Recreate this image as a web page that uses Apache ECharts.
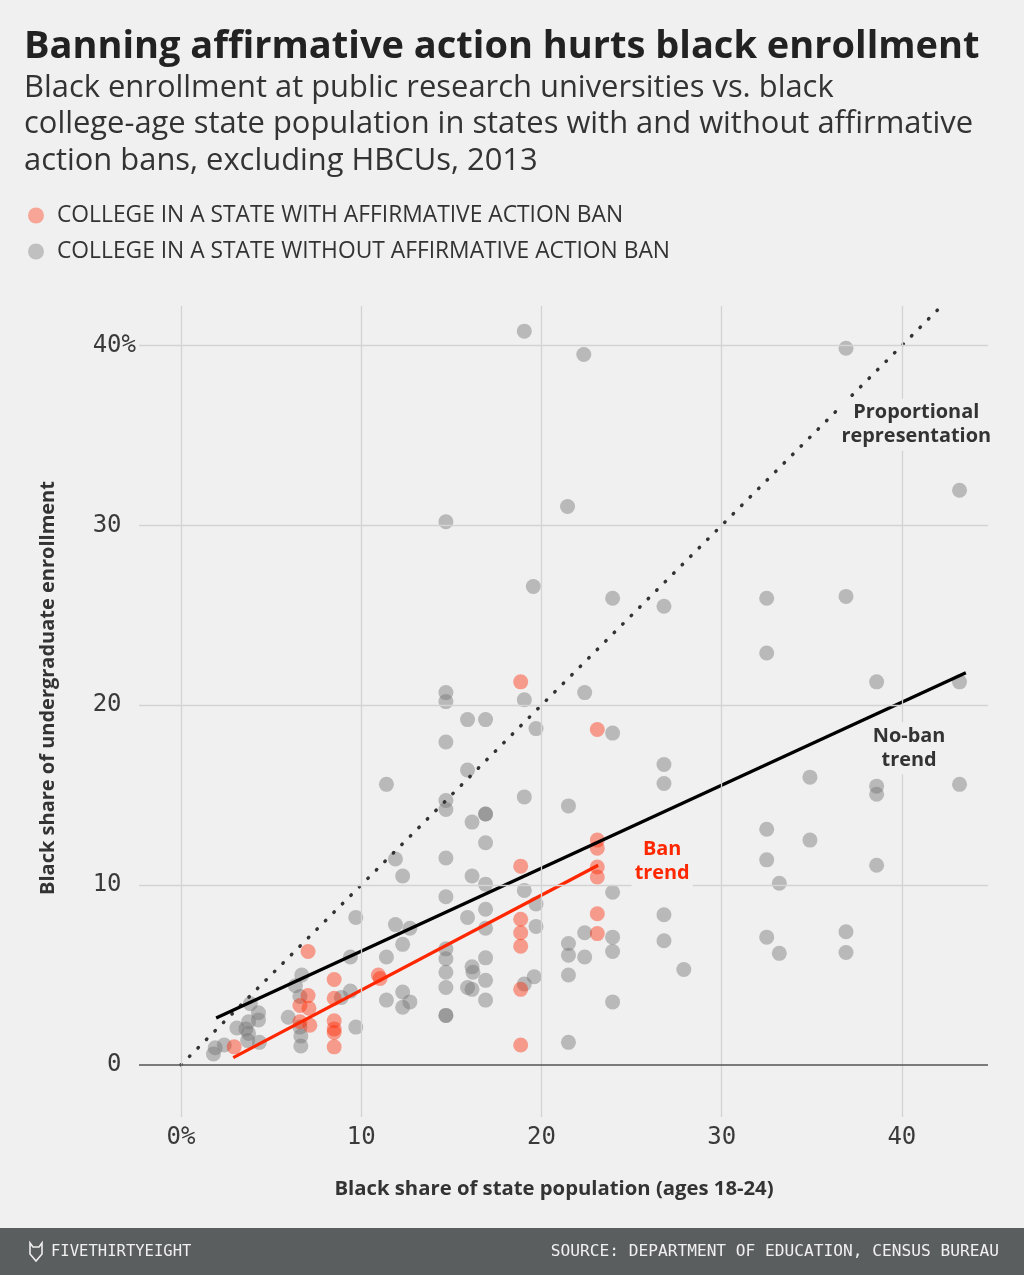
<!DOCTYPE html>
<html><head><meta charset="utf-8">
<script src="https://cdn.jsdelivr.net/npm/echarts@6/dist/echarts.min.js"></script>
<style>html,body{margin:0;padding:0;background:#f0f0f0;}#c{width:1024px;height:1275px;}</style>
</head><body><div id="c"></div><script>
// ---- data ----
const xTicks = [0, 10, 20, 30, 40];
const yTicks = [0, 10, 20, 30, 40];
const banLabel = 'COLLEGE IN A STATE WITH AFFIRMATIVE ACTION BAN';
const noBanLabel = 'COLLEGE IN A STATE WITHOUT AFFIRMATIVE ACTION BAN';
// [black share of state population ages 18-24, black share of undergraduate enrollment]
const banPoints = [
  [2.95,1.0],[6.6,3.3],[6.6,2.4],[7.05,6.3],[7.05,3.85],[7.1,3.15],[7.15,2.2],
  [8.5,4.75],[8.5,3.7],[8.5,2.45],[8.5,2.0],[8.5,1.8],[8.5,1.0],[10.95,5.0],[11.05,4.8],
  [18.85,21.3],[18.85,11.05],[18.85,8.1],[18.85,7.35],[18.85,6.6],[18.85,4.2],[18.85,1.1],
  [23.1,18.65],[23.1,12.5],[23.1,12.05],[23.1,11.0],[23.1,10.45],[23.1,8.4],[23.1,7.3]
];
const noBanPoints = [
  [1.8,0.6],[1.9,0.95],[2.4,1.1],[3.1,2.05],[3.6,2.0],[3.75,1.75],[3.7,1.35],[3.75,2.4],[3.85,3.4],[4.3,2.9],[4.3,2.5],[4.35,1.25],
  [5.95,2.65],[6.7,5.0],[6.35,4.4],[6.6,3.8],[6.6,2.1],[6.65,1.6],[6.65,1.05],
  [8.9,3.75],[9.4,4.1],[9.4,6.0],[9.7,8.2],[9.7,2.1],
  [11.4,15.6],[11.4,6.0],[11.4,3.6],[11.9,11.45],[11.9,7.8],[12.3,10.5],[12.3,6.7],[12.3,4.05],[12.3,3.2],[12.7,7.6],[12.7,3.5],
  [14.7,30.2],[14.7,20.7],[14.7,20.2],[14.7,17.95],[14.7,14.7],[14.7,14.2],[14.7,11.5],[14.7,9.35],[14.7,6.45],[14.7,5.9],[14.7,5.15],[14.7,4.3],[14.7,2.75],[14.7,2.75],
  [15.9,19.2],[15.9,16.4],[15.9,8.2],[15.9,4.3],[16.15,13.5],[16.15,10.5],[16.15,5.45],[16.2,5.15],[16.15,4.2],
  [16.9,19.2],[16.9,13.95],[16.9,13.95],[16.9,12.35],[16.9,10.05],[16.9,8.65],[16.9,7.6],[16.9,5.95],[16.9,4.7],[16.9,3.6],
  [19.05,40.8],[19.05,20.3],[19.05,14.9],[19.05,9.7],[19.05,4.5],[19.6,4.9],[19.55,26.6],[19.7,18.7],[19.7,8.95],[19.7,7.7],
  [21.45,31.05],[21.5,14.4],[21.5,6.75],[21.5,6.1],[21.5,5.0],[21.5,1.25],
  [22.35,39.5],[22.4,20.7],[22.4,7.35],[22.4,6.0],
  [23.95,25.95],[23.95,18.45],[23.95,9.6],[23.95,7.1],[23.95,6.3],[23.95,3.5],
  [26.8,25.5],[26.8,16.7],[26.8,15.65],[26.8,8.35],[26.8,6.9],[27.9,5.3],
  [32.5,25.95],[32.5,22.9],[32.5,13.1],[32.5,11.4],[32.5,7.1],[33.2,10.1],[33.2,6.2],[34.9,16.0],[34.9,12.5],
  [36.9,39.85],[36.9,26.05],[36.9,7.4],[36.9,6.25],
  [38.6,21.3],[38.6,15.5],[38.6,15.05],[38.6,11.1],
  [43.2,31.95],[43.2,21.3],[43.2,15.6]
];
const proportionalLine = [[0,0],[42.2,42.2]];
const noBanTrend = [[1.95,2.6],[43.55,21.8]];
const banTrend = [[2.9,0.4],[23.15,11.1]];

// ---- text ----
const titleText = 'Banning affirmative action hurts black enrollment';
const subLines = ['Black enrollment at public research universities vs. black',
  'college-age state population in states with and without affirmative',
  'action bans, excluding HBCUs, 2013'];
const yTitle = 'Black share of undergraduate enrollment';
const xTitle = 'Black share of state population (ages 18-24)';
const sourceText = 'SOURCE: DEPARTMENT OF EDUCATION, CENSUS BUREAU';

// ---- layout ----
const X_MIN = -2.33, X_MAX = 44.78, Y_MIN = -2.9, Y_MAX = 42.2;
const annProp = [40.8, 35.6], annNoBan = [40.4, 17.6], annBan = [26.7, 11.3];
const SANS = '"Open Sans"';
const MONO = '"DejaVu Sans Mono"';

// font size fitted so the rendered text width matches the reference width
const mctx = document.createElement('canvas').getContext('2d');
function fit(text, weight, family, target) {
  mctx.font = weight + ' 100px ' + family;
  return Math.round(100 * target / mctx.measureText(text).width * 10) / 10;
}
const titleSize = fit(titleText, 'bold', SANS, 955);
const subSize = fit(subLines[1], 'normal', SANS, 948);
const legendSize = fit(noBanLabel, 'normal', SANS, 612);
const yTitleSize = fit(yTitle, 'bold', SANS, 413);
const xTitleSize = fit(xTitle, 'bold', SANS, 440);
const annSize = fit('representation', 'bold', SANS, 150);
const srcSize = fit(sourceText, 'normal', MONO, 450);

const gridLines = [];
xTicks.forEach(v => gridLines.push([{coord:[v, Y_MIN]},{coord:[v, Y_MAX]}]));
yTicks.filter(v => v !== 0).forEach(v => gridLines.push([{coord:[X_MIN, v]},{coord:[X_MAX, v]}]));
const baseLine = [[{coord:[X_MIN, 0]},{coord:[X_MAX, 0]}]];

const annPoint = (coord, text, color) => ({
  symbol: 'circle', symbolSize: 1, silent: true,
  itemStyle: {color: 'rgba(0,0,0,0)'},
  label: {
    show: true, position: 'inside', formatter: text,
    fontFamily: SANS, fontWeight: 'bold', fontSize: annSize, lineHeight: 24,
    color: color, align: 'center', verticalAlign: 'middle',
    backgroundColor: '#f0f0f0', padding: [2, 3]
  },
  data: [{coord: coord}]
});

const chart = echarts.init(document.getElementById('c'), null, {renderer: 'canvas'});
chart.setOption({
  backgroundColor: '#f0f0f0',
  animation: false,
  title: [
    {text: titleText, left: 24, top: 24, padding: 0,
     textStyle: {fontFamily: SANS, fontWeight: 'bold', fontSize: titleSize, lineHeight: 46, color: '#222'}},
    {text: subLines.join('\n'), left: 24, top: 70, padding: 0,
     textStyle: {fontFamily: SANS, fontWeight: 'normal', fontSize: subSize, lineHeight: 36.3, color: '#333'}}
  ],
  legend: {
    orient: 'vertical', left: 28, top: 204, padding: 0,
    itemWidth: 16, itemHeight: 16, itemGap: 13, icon: 'circle',
    selectedMode: false,
    textStyle: {fontFamily: SANS, fontSize: legendSize, lineHeight: 20, color: '#333', padding: [0, 0, 0, 8]},
    data: [
      {name: banLabel, itemStyle: {color: '#f6a596', opacity: 1}},
      {name: noBanLabel, itemStyle: {color: '#c0c0c0', opacity: 1}}
    ]
  },
  grid: {left: 139, right: 36, top: 306, bottom: 158},
  xAxis: {
    type: 'value', min: X_MIN, max: X_MAX,
    splitLine: {show: false}, axisLine: {show: false}, axisTick: {show: false},
    axisLabel: {customValues: xTicks, margin: 9, fontFamily: MONO, fontSize: 24, color: '#3a3a3a',
      formatter: v => (v === 0 ? '0%' : String(v))}
  },
  yAxis: {
    type: 'value', min: Y_MIN, max: Y_MAX,
    splitLine: {show: false}, axisLine: {show: false}, axisTick: {show: false},
    axisLabel: {customValues: yTicks, margin: 3, fontFamily: MONO, fontSize: 24, color: '#3a3a3a',
      formatter: v => (v === 40 ? '40%' : v + ' ')}
  },
  series: [
    {type: 'scatter', name: 'grid', data: [], z: 1, silent: true,
     markLine: {silent: true, symbol: ['none','none'], label: {show: false},
       lineStyle: {color: '#d3d3d3', width: 1.3, type: 'solid'}, emphasis: {disabled: true}, data: gridLines}},
    {type: 'scatter', name: 'base', data: [], z: 1, silent: true,
     markLine: {silent: true, symbol: ['none','none'], label: {show: false},
       lineStyle: {color: '#555', width: 1.6, type: 'solid'}, emphasis: {disabled: true}, data: baseLine}},
    {type: 'scatter', name: noBanLabel, data: noBanPoints, z: 2, symbolSize: 15,
     itemStyle: {color: 'rgb(117,117,117)', opacity: 0.45}},
    {type: 'scatter', name: banLabel, data: banPoints, z: 2, symbolSize: 15,
     itemStyle: {color: '#ff2700', opacity: 0.42}},
    {type: 'line', name: 'prop', data: proportionalLine, z: 3, showSymbol: false, silent: true,
     lineStyle: {color: '#333', width: 3.5, type: [0.5, 11.5], cap: 'round'},
     markPoint: annPoint(annProp, 'Proportional\nrepresentation', '#333')},
    {type: 'line', name: 'nobantrend', data: noBanTrend, z: 3, showSymbol: false, silent: true,
     lineStyle: {color: '#000', width: 3.3},
     markPoint: annPoint(annNoBan, 'No-ban\ntrend', '#333')},
    {type: 'line', name: 'bantrend', data: banTrend, z: 3, showSymbol: false, silent: true,
     lineStyle: {color: '#ff2700', width: 3.3},
     markPoint: annPoint(annBan, 'Ban\ntrend', '#ff2700')}
  ],
  graphic: [
    {type: 'text', x: 48, y: 688, rotation: Math.PI / 2, silent: true,
     style: {text: yTitle, fontFamily: SANS, fontWeight: 'bold', fontSize: yTitleSize,
       fill: '#333', align: 'center', verticalAlign: 'middle'}},
    {type: 'text', x: 554, y: 1189, silent: true,
     style: {text: xTitle, fontFamily: SANS, fontWeight: 'bold', fontSize: xTitleSize,
       fill: '#333', align: 'center', verticalAlign: 'middle'}},
    {type: 'rect', silent: true, shape: {x: 0, y: 1228, width: 1024, height: 47}, style: {fill: '#5b5e5f'}},
    {type: 'polygon', silent: true,
     shape: {points: [[30,1243],[33,1247],[39,1247],[42,1243],[42,1254],[36,1261],[30,1254]]},
     style: {fill: 'none', stroke: '#eeeeee', lineWidth: 1.6}},
    {type: 'text', x: 51, y: 1252, silent: true,
     style: {text: 'FIVETHIRTYEIGHT', fontFamily: MONO, fontSize: srcSize * 0.96, fill: '#f0f0f0',
       align: 'left', verticalAlign: 'middle'}},
    {type: 'text', x: 999, y: 1252, silent: true,
     style: {text: sourceText, fontFamily: MONO, fontSize: srcSize, fill: '#f0f0f0',
       align: 'right', verticalAlign: 'middle'}}
  ]
});
</script></body></html>
